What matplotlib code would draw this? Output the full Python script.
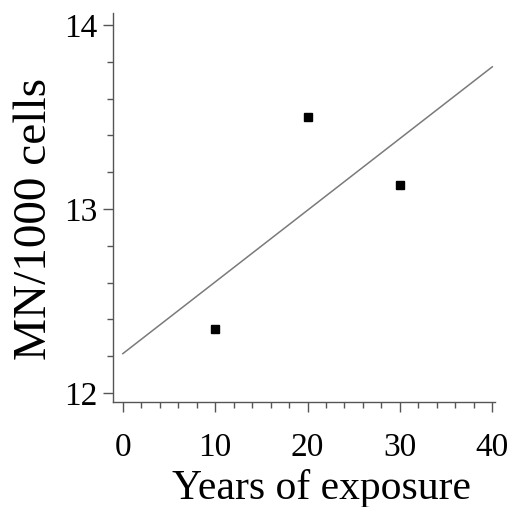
import numpy as np
import matplotlib.pyplot as plt
from matplotlib.ticker import MultipleLocator

plt.rcParams['font.family'] = ['Liberation Serif', 'DejaVu Serif']

years = [10, 20, 30]
mn_per_1000 = [12.35, 13.50, 13.13]

# regression line over the plotted range
line_x = np.array([0, 40])
slope, intercept = np.polyfit(years, mn_per_1000, 1)
line_y = intercept + slope * line_x

fig = plt.figure(figsize=(5.13, 5.07), dpi=100)
ax = fig.add_axes([0.220, 0.207, 0.745, 0.767])

ax.plot(line_x, line_y, color='#7a7a7a', lw=1.1)
ax.plot(years, mn_per_1000, 's', color='black', ms=6, mec='black')

ax.set_xlim(-1.08, 40.3)
ax.set_ylim(11.95, 14.065)
ax.xaxis.set_major_locator(MultipleLocator(10))
ax.xaxis.set_minor_locator(MultipleLocator(2))
ax.yaxis.set_major_locator(MultipleLocator(1))
ax.yaxis.set_minor_locator(MultipleLocator(0.2))

for s in ['top', 'right']:
    ax.spines[s].set_visible(False)
for s in ['left', 'bottom']:
    ax.spines[s].set_color('#555555')
    ax.spines[s].set_linewidth(1.0)

ax.tick_params(which='major', length=7, width=1.0, color='#555555', labelsize=24)
ax.tick_params(which='minor', length=4, width=1.0, color='#555555')
ax.tick_params(axis='x', which='major', pad=15)
ax.tick_params(axis='y', which='major', pad=4)

ax.set_xlabel('Years of exposure', fontsize=30)
ax.set_ylabel('MN/1000 cells', fontsize=34)
ax.xaxis.set_label_coords(0.547, -0.172)
ax.yaxis.set_label_coords(-0.15, 0.47)

fig.savefig('out.png', dpi=100)
